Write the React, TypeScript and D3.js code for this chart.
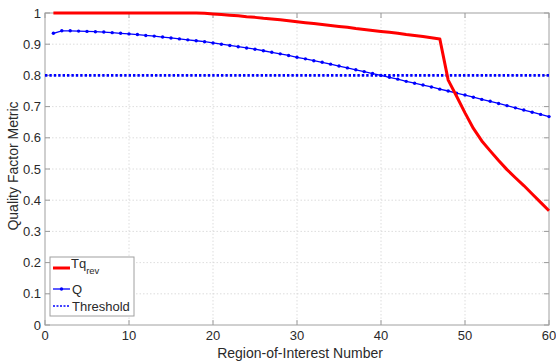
import React from "react";
import * as d3 from "d3";

const roi: number[] = Array.from({ length: 60 }, (_, i) => i + 1);

const qValues: number[] = [
  0.935, 0.943, 0.943, 0.942, 0.941, 0.94, 0.939, 0.937, 0.935, 0.933,
  0.931, 0.928, 0.926, 0.923, 0.92, 0.917, 0.914, 0.911, 0.908, 0.904,
  0.9, 0.896, 0.892, 0.888, 0.884, 0.879, 0.874, 0.869, 0.864, 0.858,
  0.853, 0.847, 0.842, 0.836, 0.83, 0.824, 0.818, 0.812, 0.806, 0.8,
  0.794, 0.788, 0.781, 0.775, 0.769, 0.763, 0.756, 0.75, 0.743, 0.737,
  0.73, 0.723, 0.717, 0.71, 0.703, 0.696, 0.689, 0.682, 0.675, 0.668,
];

const tqRevValues: number[] = [
  1, 1, 1, 1, 1, 1, 1, 1, 1, 1,
  1, 1, 1, 1, 1, 1, 1, 1, 0.999, 0.997,
  0.995, 0.993, 0.991, 0.988, 0.986, 0.983, 0.981, 0.978, 0.975, 0.972,
  0.969, 0.966, 0.963, 0.96, 0.957, 0.954, 0.95, 0.947, 0.944, 0.941,
  0.938, 0.935, 0.931, 0.928, 0.925, 0.921, 0.917, 0.785, 0.733, 0.68,
  0.63, 0.59, 0.558, 0.527, 0.498, 0.472, 0.447, 0.42, 0.393, 0.366,
];

const threshold = 0.8;
const xTicks: number[] = [0, 10, 20, 30, 40, 50, 60];
const yTicks: number[] = [0, 0.1, 0.2, 0.3, 0.4, 0.5, 0.6, 0.7, 0.8, 0.9, 1];
const xTickLabels: string[] = ["0", "10", "20", "30", "40", "50", "60"];
const yTickLabels: string[] = ["0", "0.1", "0.2", "0.3", "0.4", "0.5", "0.6", "0.7", "0.8", "0.9", "1"];

export default function App() {
  const W = 556, H = 363;
  const left = 45, right = 549, top = 13, bottom = 325;
  const x = d3.scaleLinear().domain([0, 60]).range([left, right]);
  const y = d3.scaleLinear().domain([0, 1]).range([bottom, top]);
  const font = "'Liberation Sans', Arial, sans-serif";
  const textColor = "#2a2a2a";

  const line = d3
    .line<number>()
    .x((_, i) => x(roi[i]))
    .y((d) => y(d));

  const tick = 5;

  return (
    <svg
      width={W}
      height={H}
      style={{ position: "absolute", left: 0, top: 0, background: "#fff" }}
      fontFamily={font}
    >
      <rect x={0} y={0} width={W} height={H} fill="#fff" />
      {/* grid */}
      {xTicks.slice(1, -1).map((t) => (
        <line key={"gx" + t} x1={x(t)} x2={x(t)} y1={top} y2={bottom} stroke="#d4d4d4" strokeWidth={0.8} strokeDasharray="1.5 2" />
      ))}
      {yTicks.slice(1, -1).map((t) => (
        <line key={"gy" + t} x1={left} x2={right} y1={y(t)} y2={y(t)} stroke="#d4d4d4" strokeWidth={0.8} strokeDasharray="1.5 2" />
      ))}
      {/* ticks */}
      {xTicks.map((t) => (
        <g key={"tx" + t}>
          <line x1={x(t)} x2={x(t)} y1={bottom} y2={bottom - tick} stroke="#9a9a9a" />
          <line x1={x(t)} x2={x(t)} y1={top} y2={top + tick} stroke="#9a9a9a" />
        </g>
      ))}
      {yTicks.map((t) => (
        <g key={"ty" + t}>
          <line x1={left} x2={left + tick} y1={y(t)} y2={y(t)} stroke="#9a9a9a" />
          <line x1={right} x2={right - tick} y1={y(t)} y2={y(t)} stroke="#9a9a9a" />
        </g>
      ))}
      <rect x={left} y={top} width={right - left} height={bottom - top} fill="none" stroke="#a0a0a0" strokeWidth={1} />
      {/* tick labels */}
      {xTicks.map((t, i) => (
        <text key={"lx" + t} x={x(t)} y={bottom + 15} fontSize={13} textAnchor="middle" fill={textColor}>
          {xTickLabels[i]}
        </text>
      ))}
      {yTicks.map((t, i) => (
        <text key={"ly" + t} x={left - 4} y={y(t) + 4.5} fontSize={13} textAnchor="end" fill={textColor}>
          {yTickLabels[i]}
        </text>
      ))}
      {/* axis labels */}
      <text x={300} y={358} fontSize={14} textAnchor="middle" fill={textColor}>
        Region-of-Interest Number
      </text>
      <text
        transform={`translate(18, 166) rotate(-90)`}
        fontSize={14}
        textAnchor="middle"
        fill={textColor}
      >
        Quality Factor Metric
      </text>
      {/* threshold */}
      <line x1={x(0)} x2={x(60)} y1={y(threshold)} y2={y(threshold)} stroke="#0000ff" strokeWidth={2.6} strokeDasharray="2.4 2" />
      {/* Q */}
      <path d={line(qValues) || ""} fill="none" stroke="#0000ff" strokeWidth={1.3} />
      {qValues.map((v, i) => (
        <circle key={"q" + i} cx={x(roi[i])} cy={y(v)} r={1.7} fill="#0000ff" />
      ))}
      {/* Tq_rev */}
      <path d={line(tqRevValues) || ""} fill="none" stroke="#ff0000" strokeWidth={3} strokeLinejoin="round" />
      {/* legend */}
      <g>
        <rect x={50} y={257} width={84} height={59} fill="#fff" stroke="#a0a0a0" strokeWidth={1} />
        <line x1={53} x2={70} y1={268} y2={268} stroke="#ff0000" strokeWidth={3} />
        <text x={71} y={268} fontSize={13} fill={textColor}>
          Tq
          <tspan fontSize={9.5} dy={6}>rev</tspan>
        </text>
        <line x1={53} x2={70} y1={289} y2={289} stroke="#0000ff" strokeWidth={1.3} />
        <circle cx={61.5} cy={289} r={1.7} fill="#0000ff" />
        <text x={72} y={294} fontSize={13} fill={textColor}>Q</text>
        <line x1={53} x2={70} y1={306} y2={306} stroke="#0000ff" strokeWidth={1.6} strokeDasharray="2 1.5" />
        <text x={72} y={311} fontSize={13} fill={textColor}>Threshold</text>
      </g>
    </svg>
  );
}
